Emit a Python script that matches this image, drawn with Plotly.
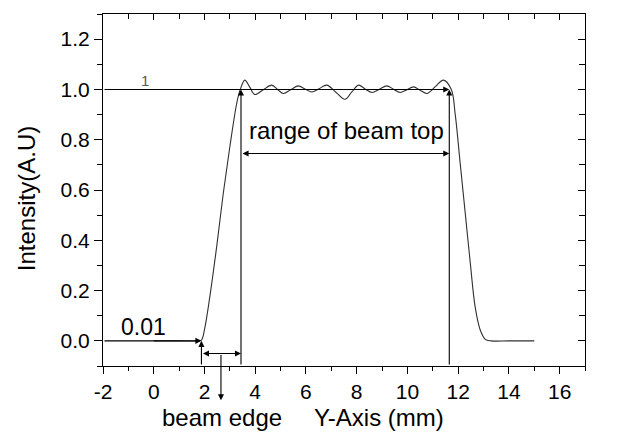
import plotly.graph_objects as go

# beam profile (Y position in mm, normalised intensity)
y_pos = [0.0, 1.0, 1.75, 1.88, 2.01, 2.21, 2.48, 2.74, 3.00, 3.27, 3.40, 3.59,
         3.79, 3.99, 4.32, 4.65, 4.88, 5.11, 5.40, 5.70, 5.96, 6.23, 6.52,
         6.82, 7.18, 7.54, 7.80, 8.07, 8.33, 8.60, 8.90, 9.19, 9.45, 9.71,
         9.98, 10.24, 10.50, 10.77, 11.10, 11.42, 11.73, 11.88, 12.08, 12.28,
         12.48, 12.67, 12.87, 13.07, 13.30, 14.0, 15.0]
intensity = [0.0, 0.0, 0.0, 0.003, 0.05, 0.175, 0.374, 0.586, 0.772, 0.944,
             0.997, 1.037, 1.008, 0.980, 0.999, 1.017, 1.000, 0.984, 0.999,
             1.014, 1.002, 0.990, 1.003, 1.017, 0.989, 0.961, 0.989, 1.017,
             1.002, 0.988, 1.001, 1.014, 1.001, 0.988, 0.999, 1.010, 0.997,
             0.984, 1.011, 1.037, 1.0, 0.905, 0.706, 0.507, 0.308, 0.135,
             0.043, 0.006, 0.0, 0.0, 0.0]

x_ticks = [-2, 0, 2, 4, 6, 8, 10, 12, 14, 16]
x_tick_labels = ["-2", "0", "2", "4", "6", "8", "10", "12", "14", "16"]

# marker positions used by the annotations
edge_start = 1.88
top_start = 3.44
top_end = 11.65

FONT = "Liberation Sans, Arial, sans-serif"

fig = go.Figure()
fig.add_trace(go.Scatter(x=y_pos, y=intensity, mode="lines",
                         line=dict(color="#303030", width=1.1, shape="spline", smoothing=1.0),
                         hoverinfo="skip", showlegend=False))
# same curve on the mirrored axes so the inner ticks on top/right get drawn
fig.add_trace(go.Scatter(x=y_pos, y=intensity, mode="lines", xaxis="x2", yaxis="y2",
                         line=dict(color="rgba(0,0,0,0)", width=0),
                         hoverinfo="skip", showlegend=False))


def arrow(x0, y0, x1, y1, side="end"):
    fig.add_annotation(x=x1, y=y1, ax=x0, ay=y0, xref="x", yref="y",
                       axref="x", ayref="y", text="", showarrow=True,
                       arrowhead=2, arrowsize=1.1, arrowwidth=1.1,
                       arrowcolor="black", arrowside=side, standoff=0,
                       startstandoff=0)


arrow(-2, 1.0, top_end, 1.0)
arrow(top_start, -0.1, top_start, 1.0)
arrow(top_end, -0.1, top_end, 1.0)
arrow(top_start, 0.745, top_end, 0.745, side="end+start")
arrow(-2, 0.0, edge_start, 0.0)
arrow(edge_start, -0.1, edge_start, 0.0)
arrow(edge_start, -0.05, top_start, -0.05, side="end+start")
arrow(2.65, -0.05, 2.65, -0.236)

texts = [
    dict(x=-0.33, y=1.035, text="1", size=15, color="#555555"),
    dict(x=-0.39, y=0.056, text="0.01", size=23, color="black"),
    dict(x=7.58, y=0.838, text="range of beam top", size=24, color="black"),
]
for t in texts:
    fig.add_annotation(x=t["x"], y=t["y"], xref="x", yref="y", text=t["text"],
                       showarrow=False, yanchor="middle",
                       font=dict(family=FONT, size=t["size"], color=t["color"]))

# labels under the axis (paper y so they are not hidden as out of range)
for x, text in [(2.69, "beam edge"), (8.86, "Y-Axis (mm)")]:
    fig.add_annotation(x=x, y=-0.147, xref="x", yref="paper", text=text,
                       showarrow=False, xanchor="center", yanchor="middle",
                       font=dict(family=FONT, size=24, color="black"))

fig.add_annotation(x=-0.159, y=0.565, xref="paper", yref="y", text="Intensity(A.U)",
                   textangle=-90, showarrow=False, xanchor="center", yanchor="middle",
                   font=dict(family=FONT, size=24, color="black"))

fig.update_layout(
    width=618, height=447,
    margin=dict(l=103, r=33, t=14, b=81),
    paper_bgcolor="white", plot_bgcolor="white",
    font=dict(family=FONT, size=21, color="black"),
    xaxis=dict(range=[-2, 17], tickvals=x_ticks, ticktext=x_tick_labels,
               ticks="outside", ticklen=7, tickwidth=1, tickcolor="black",
               minor=dict(dtick=1, tick0=-2, ticks="outside", ticklen=4, tickcolor="black"),
               showline=True, linecolor="black", linewidth=1, mirror=True,
               showgrid=False, zeroline=False),
    yaxis=dict(range=[-0.1, 1.3], tick0=0, dtick=0.2, tickformat=".1f",
               ticks="outside", ticklen=8, tickwidth=1, tickcolor="black",
               minor=dict(dtick=0.1, tick0=0, ticks="outside", ticklen=5, tickcolor="black"),
               showline=True, linecolor="black", linewidth=1, mirror=True,
               showgrid=False, zeroline=False),
    xaxis2=dict(range=[-2, 17], overlaying="x", side="top", anchor="y",
                tickvals=x_ticks, showticklabels=False,
                ticks="inside", ticklen=6, tickcolor="black",
                minor=dict(dtick=1, tick0=-2, ticks="inside", ticklen=5, tickcolor="black"),
                showgrid=False, zeroline=False, showline=False),
    yaxis2=dict(range=[-0.1, 1.3], overlaying="y", side="right", anchor="x",
                tick0=0, dtick=0.2, showticklabels=False,
                ticks="inside", ticklen=7, tickcolor="black",
                minor=dict(dtick=0.1, tick0=0, ticks="inside", ticklen=6, tickcolor="black"),
                showgrid=False, zeroline=False, showline=False),
)

fig.write_html("out.html", config={"displayModeBar": False},
               post_script="document.body.style.margin='0';")
